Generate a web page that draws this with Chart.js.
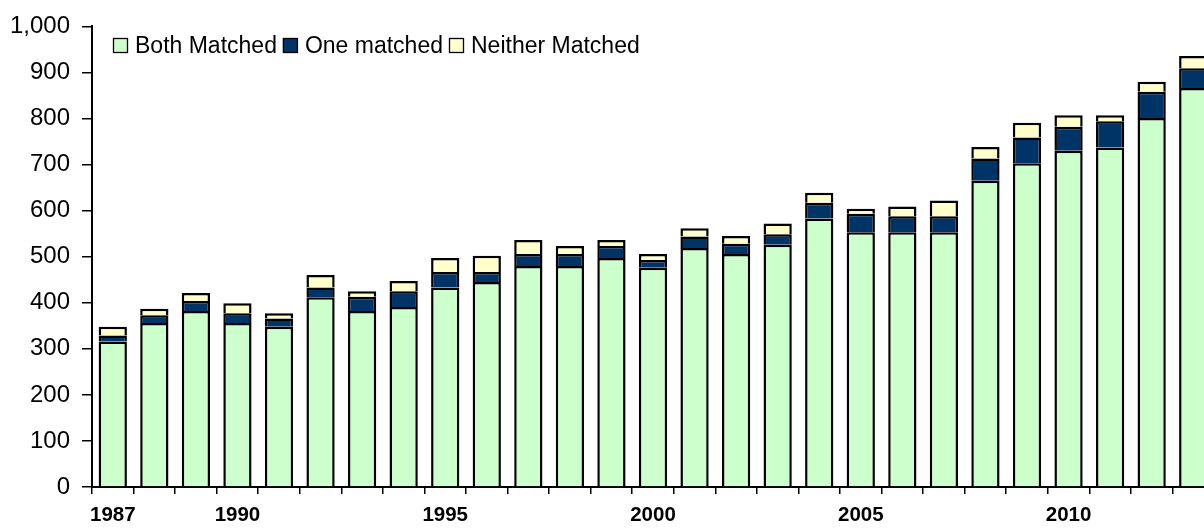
<!DOCTYPE html>
<html>
<head>
<meta charset="utf-8">
<script src="https://cdn.jsdelivr.net/npm/chart.js@4.4.1/dist/chart.umd.min.js"></script>
<style>
  html, body { margin: 0; padding: 0; background: #fff; }
  #wrap { width: 1204px; height: 529px; overflow: hidden; position: relative; }
  canvas { display: block; }
</style>
</head>
<body>
<div id="wrap"><canvas id="myChart" width="1216" height="529"></canvas></div>
<script>
// data
var years = ['1987','1988','1989','1990','1991','1992','1993','1994','1995','1996',
  '1997','1998','1999','2000','2001','2002','2003','2004','2005','2006',
  '2007','2008','2009','2010','2011','2012','2013'];
var bothMatched = [316,356,382,356,348,412,382,391,433,445,480,480,497,476,519,506,526,583,553,553,553,665,703,730,737,801,866];
var oneMatched = [13,17,22,21,18,21,31,34,34,22,26,26,26,17,25,22,23,34,40,35,35,48,56,52,57,57,43];
var neitherMatched = [19,14,17,22,11,27,12,22,30,35,30,17,13,13,18,17,23,22,11,21,34,25,32,25,13,22,27];
var shownYears = ['1987','1990','1995','2000','2005','2010'];
var yTicks = [0,100,200,300,400,500,600,700,800,900,1000];

var FONT = "'Liberation Sans', Arial, sans-serif";

// legend drawn inside the plot, top left
var legendInside = {
  id: 'legendInside',
  afterDraw: function(chart) {
    var ctx = chart.ctx;
    var x = chart.chartArea.left + 21;
    var y = 46;
    var box = 15;
    ctx.save();
    ctx.font = '23px ' + FONT;
    ctx.textBaseline = 'middle';
    chart.data.datasets.forEach(function(ds) {
      ctx.fillStyle = ds.backgroundColor;
      ctx.fillRect(x, y - 8, box, box);
      ctx.strokeStyle = '#000';
      ctx.lineWidth = 1.3;
      ctx.strokeRect(x + 0.5, y - 7.5, box - 1, box - 1);
      ctx.fillStyle = '#000';
      ctx.fillText(ds.label, x + box + 7, y + 1);
      x += box + 7 + ctx.measureText(ds.label).width + 6;
    });
    ctx.restore();
  }
};

function makeSet(label, values, color) {
  return {
    label: label,
    data: values,
    backgroundColor: color,
    borderColor: '#000',
    borderWidth: 2.5,
    barPercentage: 0.68,
    categoryPercentage: 1.0
  };
}

var ctx = document.getElementById('myChart').getContext('2d');
var chart = new Chart(ctx, {
  type: 'bar',
  data: {
    labels: years,
    datasets: [
      makeSet('Both Matched', bothMatched, '#CCFFCC'),
      makeSet('One matched', oneMatched, '#003366'),
      makeSet('Neither Matched', neitherMatched, '#FFFFCC')
    ]
  },
  options: {
    responsive: false,
    animation: false,
    layout: { padding: { top: 24, right: 2, bottom: 0, left: 0 } },
    plugins: {
      legend: { display: false },
      tooltip: { enabled: false }
    },
    scales: {
      x: {
        stacked: true,
        grid: { offset: true, drawOnChartArea: false, color: '#000', lineWidth: 1.5, tickLength: 7 },
        border: { color: '#000', width: 2 },
        ticks: {
          autoSkip: false,
          maxRotation: 0,
          padding: 9,
          color: '#000',
          font: { family: FONT, size: 20.5, weight: 'bold' },
          callback: function(value, index) {
            var lab = years[index];
            return shownYears.indexOf(lab) >= 0 ? lab : '';
          }
        },
        afterFit: function(scale) { scale.height = 42; }
      },
      y: {
        stacked: true,
        min: 0,
        max: 1000,
        afterBuildTicks: function(scale) {
          scale.ticks = yTicks.map(function(v) { return { value: v }; });
        },
        grid: { drawOnChartArea: false, color: '#000', lineWidth: 1.5, tickLength: 10 },
        border: { color: '#000', width: 2 },
        ticks: {
          padding: 12,
          color: '#000',
          font: { family: FONT, size: 24 },
          callback: function(v) { return v.toLocaleString('en-US'); }
        },
        afterFit: function(scale) { scale.width = 92; }
      }
    }
  },
  plugins: [legendInside]
});
</script>
</body>
</html>
